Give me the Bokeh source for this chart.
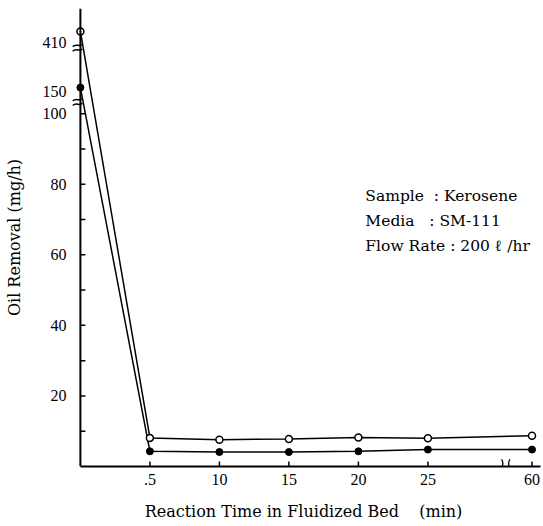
from bokeh.plotting import figure
from bokeh.models import FixedTicker, Range1d, ColumnDataSource, Span
from bokeh.core.properties import value
from bokeh.embed import file_html
from bokeh.resources import INLINE

# ---------------- data ----------------
time_min = [0, 5, 10, 15, 20, 25, 60]
open_removal = [425, 8.1, 7.6, 7.8, 8.2, 8.0, 8.7]
filled_removal = [155, 4.3, 4.1, 4.1, 4.3, 4.8, 4.8]
x_tick_values = [5, 10, 15, 20, 25, 60]
x_tick_labels = [".5", "10", "15", "20", "25", "60"]
y_tick_values = [20, 40, 60, 80, 100, 150, 410]
y_tick_labels = ["20", "40", "60", "80", "100", "150", "410"]
y_minor_values = [10, 30, 50, 70, 90]
notes = ["Sample\u00a0\u00a0: Kerosene", "Media\u00a0\u00a0\u00a0: SM-111", "Flow Rate : 200 \u2113 /hr"]

# ---------------- broken-axis transforms (layout) ----------------
def ymap(v):
    if v <= 100:
        return v
    if v <= 300:
        return 106.3 + (v - 150) * 0.22
    return 120.3 + (v - 410) * 0.2

def xmap(x):
    if x <= 25:
        return x
    return 25 + (x - 25) * 0.214

Y_BREAKS = [104.0, 119.4]
X_BREAK = 30.6
TICK_LEN = 0.36          # 5 px in x data units
TICK_LEN_Y = 1.4         # 5 px in y data units
TICK_FONT = "Liberation Serif"
TEXT_FONT = "DejaVu Serif"

p = figure(width=543, height=526, output_backend="svg", toolbar_location=None,
           x_range=Range1d(-1.0, 33.1), y_range=Range1d(0, 129.8),
           min_border_left=66, min_border_right=3, min_border_top=8, min_border_bottom=60)
p.outline_line_color = None
p.xgrid.visible = False
p.ygrid.visible = False
p.background_fill_color = "white"
p.border_fill_color = "white"

for ax in (p.xaxis[0], p.yaxis[0]):
    ax.major_tick_line_color = None
    ax.minor_tick_line_color = None
    ax.major_tick_in = 0
    ax.major_tick_out = 0
    ax.minor_tick_in = 0
    ax.minor_tick_out = 0
    ax.major_label_text_font = TICK_FONT
    ax.major_label_text_font_size = "16px"
    ax.major_label_text_color = "black"
    ax.axis_label_text_font = TEXT_FONT
    ax.axis_label_text_font_size = "16px"
    ax.axis_label_text_font_style = "normal"
    ax.axis_label_text_color = "black"

# x axis (line drawn from x=0 only)
xt = [xmap(v) for v in x_tick_values]
p.xaxis.ticker = FixedTicker(ticks=xt)
p.xaxis.major_label_overrides = {t: l for t, l in zip(xt, x_tick_labels)}
p.xaxis.major_label_standoff = 7
p.xaxis.axis_label = "Reaction Time in Fluidized Bed\u00a0\u00a0\u00a0\u00a0(min)"
p.xaxis.axis_label_standoff = 14
p.xaxis.bounds = (0, 33.1)
p.xaxis.axis_line_color = "black"
p.xaxis.axis_line_width = 2

# y axis: labels only at frame edge; line and ticks drawn at x = 0
yt = [ymap(v) for v in y_tick_values]
p.yaxis.ticker = FixedTicker(ticks=yt)
p.yaxis.major_label_overrides = {t: l for t, l in zip(yt, y_tick_labels)}
p.yaxis.major_label_standoff = 0
p.yaxis.axis_label = "Oil Removal (mg/h)"
p.yaxis.axis_label_standoff = 16
p.yaxis.axis_line_color = None

p.add_layout(Span(location=0, dimension="height", line_color="black", line_width=2))

# inward ticks
ytick_pos = [ymap(v) for v in y_tick_values if v <= 100] + y_minor_values
p.segment(x0=[0] * len(ytick_pos), y0=ytick_pos, x1=[TICK_LEN] * len(ytick_pos), y1=ytick_pos,
          line_color="black", line_width=1.5)
p.segment(x0=xt, y0=[0] * len(xt), x1=xt, y1=[TICK_LEN_Y] * len(xt),
          line_color="black", line_width=1.5)

# series
xs = [xmap(t) for t in time_min]
src = ColumnDataSource(dict(x=xs, yo=[ymap(v) for v in open_removal],
                            yf=[ymap(v) for v in filled_removal]))
p.line("x", "yo", source=src, line_color="black", line_width=1.5)
p.line("x", "yf", source=src, line_color="black", line_width=1.5)
p.scatter("x", "yo", source=src, marker="circle", size=7, fill_color="white",
          line_color="black", line_width=1.5)
p.scatter("x", "yf", source=src, marker="circle", size=7, fill_color="black",
          line_color="black", line_width=1)

# break marks (small wavy strokes)
for b in Y_BREAKS:
    for off in (0.0, -1.3):
        p.bezier(x0=[-0.55], y0=[b + off - 0.4], x1=[0.15], y1=[b + off + 0.2],
                 cx0=[-0.3], cy0=[b + off + 0.6], cx1=[-0.1], cy1=[b + off - 0.6],
                 line_color="black", line_width=1.5)
for dx, sgn in ((-0.3, 1), (0.3, -1)):
    p.bezier(x0=[X_BREAK + dx], y0=[-0.3], x1=[X_BREAK + dx], y1=[2.0],
             cx0=[X_BREAK + dx + sgn * 0.13], cy0=[0.5], cx1=[X_BREAK + dx + sgn * 0.13], cy1=[1.2],
             line_color="black", line_width=1.3)

# notes
note_y = [76.8, 69.6, 62.4]
p.text(x=[20.5] * 3, y=note_y, text=notes, text_font=value(TEXT_FONT), text_font_size="15.5px",
       text_baseline="middle", text_align="left", text_color="black")

open("out.html", "w").write(file_html(p, INLINE))
